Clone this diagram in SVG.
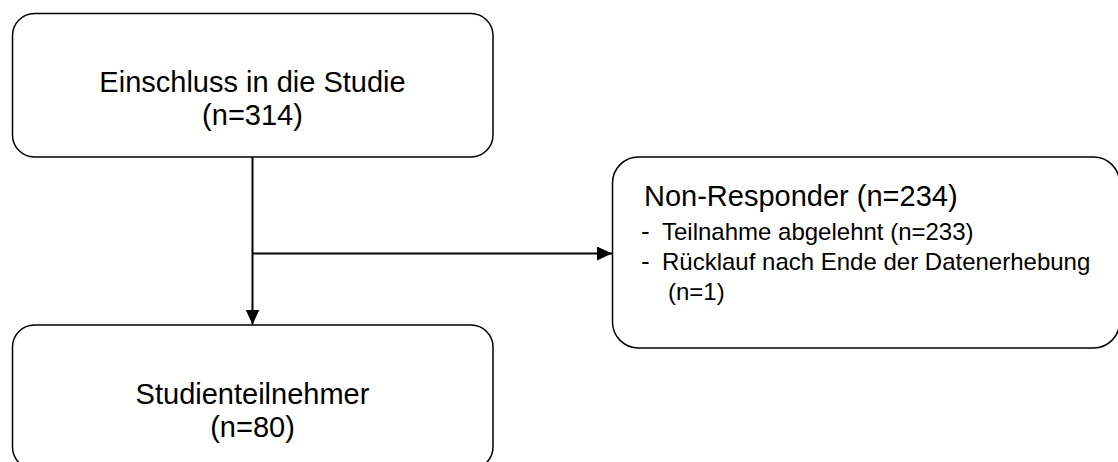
<svg xmlns="http://www.w3.org/2000/svg" width="1118" height="462" viewBox="0 0 1118 462">
  <defs>
    <style>
      .box { fill: #ffffff; stroke: #000000; stroke-width: 1.5; }
      .lbl { font-family: "Liberation Sans", Arial, sans-serif; font-size: 29px; fill: #000000; }
      .ttl { font-family: "Liberation Sans", Arial, sans-serif; font-size: 29px; fill: #000000; }
      .sub { font-family: "Liberation Sans", Arial, sans-serif; font-size: 24px; fill: #000000; }
      .dash { font-family: "Liberation Sans", Arial, sans-serif; font-size: 26px; fill: #000000; }
      .conn { stroke: #000000; stroke-width: 2; fill: none; }
    </style>
    <marker id="arrow" viewBox="0 0 15 14" refX="15" refY="7" markerWidth="15" markerHeight="14" markerUnits="userSpaceOnUse" orient="auto">
      <path d="M0,0 L15,7 L0,14 Z" fill="#000000"/>
    </marker>
  </defs>
  <rect width="1118" height="462" fill="#ffffff"/>

  <g id="node-einschluss">
    <rect class="box" x="12.5" y="13.5" width="480.5" height="143.5" rx="22" ry="22"/>
    <text class="lbl" x="252.5" y="92" text-anchor="middle">Einschluss in die Studie</text>
    <text class="lbl" x="252.5" y="125" text-anchor="middle">(n=314)</text>
  </g>

  <g id="node-nonresponder">
    <rect class="box" x="612.5" y="157" width="507" height="191" rx="26" ry="26"/>
    <text class="ttl" x="644" y="206">Non-Responder (n=234)</text>
    <text class="dash" x="641" y="240">-</text>
    <text class="sub" x="662" y="240">Teilnahme abgelehnt (n=233)</text>
    <text class="dash" x="641" y="270">-</text>
    <text class="sub" x="662" y="270">Rücklauf nach Ende der Datenerhebung</text>
    <text class="sub" x="668" y="300">(n=1)</text>
  </g>

  <g id="node-teilnehmer">
    <rect class="box" x="12.5" y="325" width="480.5" height="144" rx="22" ry="22"/>
    <text class="lbl" x="252.5" y="404" text-anchor="middle">Studienteilnehmer</text>
    <text class="lbl" x="252.5" y="437" text-anchor="middle">(n=80)</text>
  </g>

  <g id="connectors">
    <line class="conn" x1="252.5" y1="157" x2="252.5" y2="324.5" marker-end="url(#arrow)"/>
    <line class="conn" x1="252.5" y1="253.5" x2="612" y2="253.5" marker-end="url(#arrow)"/>
  </g>
</svg>
